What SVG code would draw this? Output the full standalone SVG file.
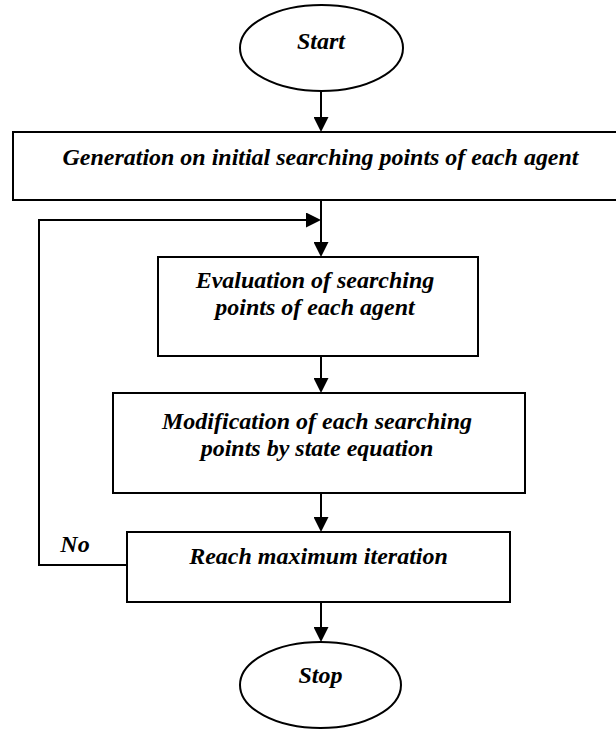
<svg xmlns="http://www.w3.org/2000/svg" width="616" height="729" viewBox="0 0 616 729">
<style>
.shape{fill:#fff;stroke:#000;stroke-width:2}
.t{font-family:'Liberation Serif','Times New Roman',serif;font-weight:700;font-style:italic;font-size:24px;fill:#000;text-anchor:middle}
.c{fill:none;stroke:#000;stroke-width:2}
</style>
<defs>
<marker id="ah" viewBox="0 0 15 15" refX="7" refY="7.5" markerWidth="15" markerHeight="15" markerUnits="userSpaceOnUse" orient="auto">
<path d="M0,0 L15,7.5 L0,15 Z" fill="#000"/>
</marker>
</defs>
<g id="connectors">
<line class="c" x1="321" y1="91" x2="321" y2="124" marker-end="url(#ah)"/>
<line class="c" x1="321" y1="200" x2="321" y2="249" marker-end="url(#ah)"/>
<polyline class="c" points="128,565 39,565 39,220 313,220" marker-end="url(#ah)"/>
<line class="c" x1="321" y1="356" x2="321" y2="385" marker-end="url(#ah)"/>
<line class="c" x1="321" y1="493" x2="321" y2="524" marker-end="url(#ah)"/>
<line class="c" x1="321" y1="602" x2="321" y2="634" marker-end="url(#ah)"/>
<text class="t" x="75" y="552">No</text>
</g>
<g id="start">
<ellipse class="shape" cx="321.5" cy="48" rx="81.5" ry="43"/>
<text class="t" x="321" y="49">Start</text>
</g>
<g id="generation">
<rect class="shape" x="13" y="132" width="610" height="68"/>
<text class="t" x="320.5" y="165" textLength="516" lengthAdjust="spacingAndGlyphs">Generation on initial searching points of each agent</text>
</g>
<g id="evaluation">
<rect class="shape" x="158" y="257" width="320" height="99"/>
<text class="t" x="315" y="288">Evaluation of searching</text>
<text class="t" x="315" y="315">points of each agent</text>
</g>
<g id="modification">
<rect class="shape" x="113" y="393" width="412" height="100"/>
<text class="t" x="317" y="429">Modification of each searching</text>
<text class="t" x="317" y="456">points by state equation</text>
</g>
<g id="reach">
<rect class="shape" x="127" y="532" width="383" height="70"/>
<text class="t" x="318.5" y="564">Reach maximum iteration</text>
</g>
<g id="stop">
<ellipse class="shape" cx="320.5" cy="685" rx="80.5" ry="43"/>
<text class="t" x="320.5" y="683">Stop</text>
</g>
</svg>
